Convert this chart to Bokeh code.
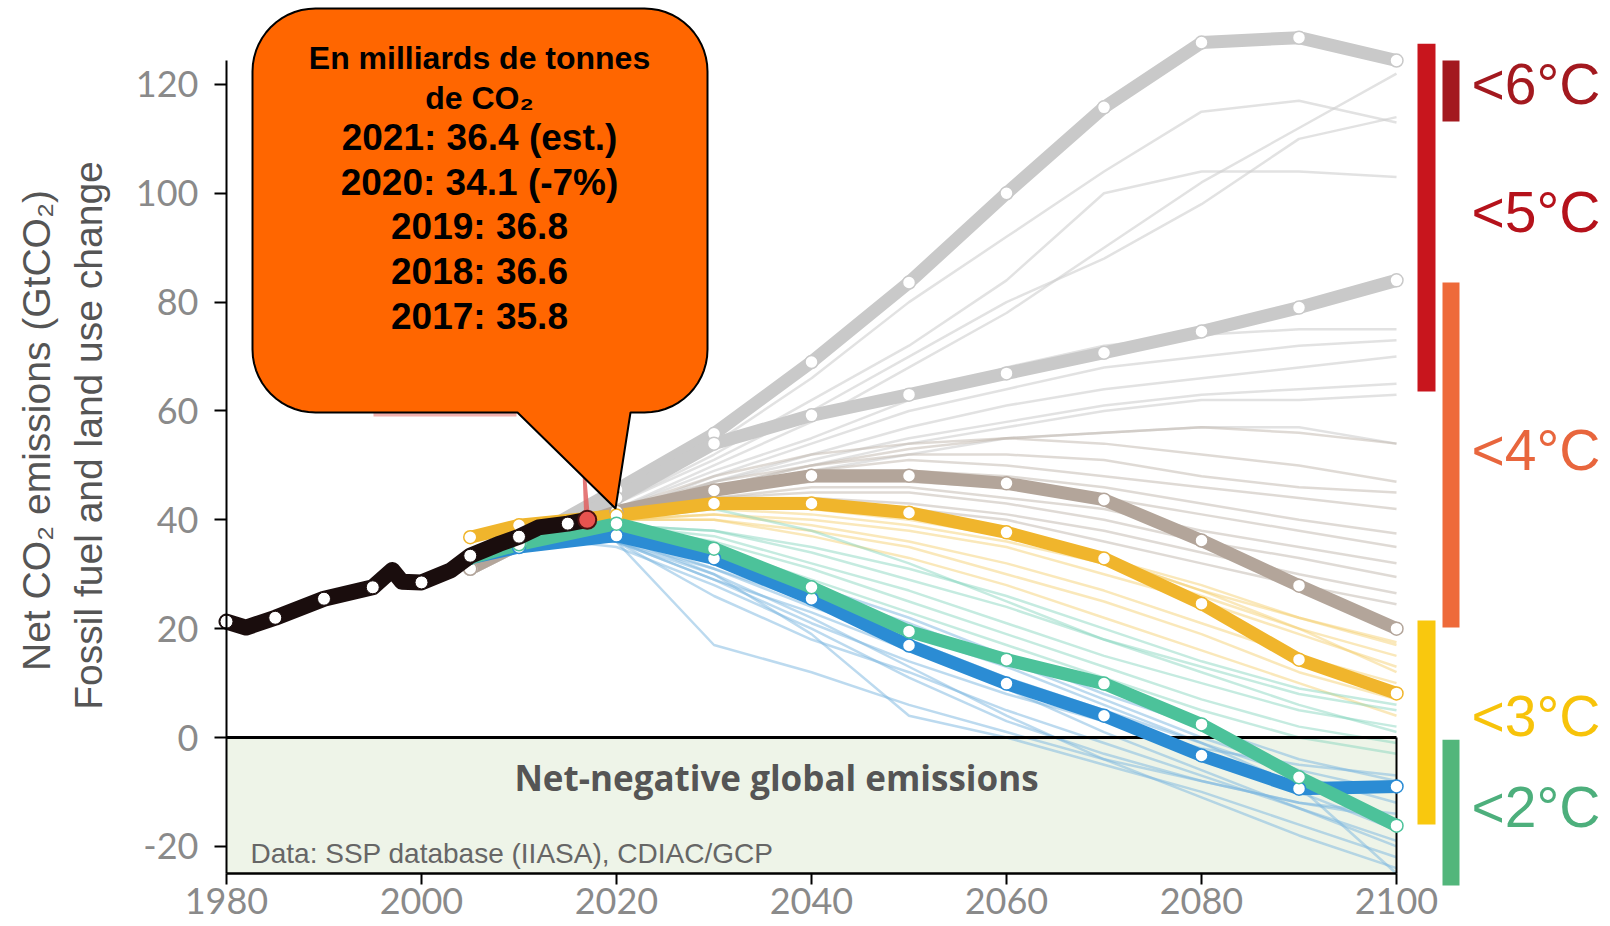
import math
from bokeh.plotting import figure
from bokeh.models import Range1d, FixedTicker, LinearAxis
from bokeh.core.properties import value
from bokeh.embed import file_html
from bokeh.resources import INLINE

# ---------------- data ----------------
hist_years = [1980, 1982, 1985, 1990, 1995, 1997, 1998, 2000, 2003, 2005, 2008, 2010, 2012, 2015, 2017]
hist_values = [21.3, 20.2, 22.0, 25.5, 27.6, 30.8, 28.6, 28.5, 30.7, 33.4, 35.6, 36.9, 38.6, 39.3, 40.0]

scen_years = [2005, 2010, 2020, 2030, 2040, 2050, 2060, 2070, 2080, 2090, 2100]
scen_gray_high = [31.0, 35.5, 45.5, 55.8, 69.0, 83.6, 100.0, 115.8, 127.7, 128.6, 124.4]
scen_gray_mid = [31.0, 35.5, 44.0, 54.0, 59.2, 63.0, 66.9, 70.7, 74.6, 79.0, 84.0]
scen_brown = [31.0, 35.5, 41.5, 45.4, 48.1, 48.1, 46.7, 43.7, 36.2, 27.9, 20.0]
scen_yellow = [36.8, 39.0, 40.8, 43.0, 43.0, 41.3, 37.7, 32.9, 24.6, 14.3, 8.1]
scen_teal = [33.0, 35.5, 39.3, 34.7, 27.6, 19.5, 14.3, 9.9, 2.4, -7.3, -16.2]
scen_blue = [33.0, 35.0, 37.1, 32.9, 25.5, 16.9, 9.9, 4.0, -3.3, -9.4, -9.0]

thin_years = [2010, 2020, 2030, 2040, 2050, 2060, 2070, 2080, 2090, 2100]
thin_gray = [
    [37, 44, 54, 66, 80, 92, 104, 115, 117, 113],
    [37, 43, 52, 62, 72, 84, 100, 104, 104, 103],
    [36, 42, 50, 58, 68, 78, 90, 102, 112, 122],
    [37, 43, 51, 60, 70, 80, 88, 98, 110, 114],
    [36, 42, 49, 55, 62, 68, 72, 74, 75, 75],
    [36, 41, 48, 54, 60, 64, 68, 70, 72, 73],
    [36, 41, 47, 52, 57, 61, 64, 66, 68, 70],
    [36, 41, 47, 51, 55, 58, 61, 63, 64, 65],
    [36, 40, 46, 50, 54, 57, 60, 62, 62, 63],
    [36, 40, 45, 49, 52, 55, 56, 57, 57, 54],
]
thin_brown = [
    [37, 42, 48, 52, 54, 55, 54, 52, 50, 47],
    [37, 42, 47, 50, 52, 52, 51, 48, 46, 45],
    [37, 41, 46, 49, 51, 50, 48, 46, 44, 42],
    [37, 41, 45, 48, 49, 48, 46, 43, 40, 37.5],
    [37, 41, 45, 47, 47, 46, 44, 41, 38, 35],
    [37, 41, 44, 46, 46, 44, 42, 38, 35, 32],
    [37, 40, 44, 45, 45, 43, 40, 36, 33, 29.5],
    [37, 40, 43, 44, 43, 41, 38, 34, 30, 26.5],
    [37, 40, 43, 43, 42, 40, 36, 32, 28, 24.5],
    [37, 41, 46, 50, 53, 55, 56, 57, 56, 54],
]
thin_yellow = [
    [38, 41, 43, 43, 41, 38, 33, 27, 22, 17.5],
    [38, 41, 42, 41, 39, 36, 32, 26, 20, 15],
    [38, 40, 41, 40, 38, 35, 30, 25, 19, 13],
    [38, 40, 41, 39, 36, 32, 27, 21, 15, 10],
    [38, 40, 40, 38, 35, 30, 25, 19, 12, 7],
    [38, 40, 40, 37, 33, 28, 22, 16, 10, 4],
    [38, 41, 44, 44, 42, 38, 33, 27, 20, 12],
    [38, 41, 43, 42, 40, 37, 33, 28, 22, 17],
]
thin_teal = [
    [38, 39, 38, 34, 29, 24, 18, 13, 8, 5],
    [38, 39, 37, 32, 27, 21, 15, 10, 5, 2],
    [38, 39, 36, 31, 25, 19, 13, 7, 2, -1],
    [38, 38, 35, 29, 23, 17, 11, 5, 0, -3],
    [38, 39, 38, 35, 31, 26, 20, 14, 9, 6],
    [38, 40, 42, 38, 32, 25, 18, 12, 6, 1],
]
thin_blue = [
    [37, 36, 17, 12, 6, 1, -4, -8, -12, -15],
    [37, 36, 30, 22, 13, 4, -4, -11, -18, -24],
    [37, 37, 32, 25, 17, 9, 1, -6, -13, -19],
    [37, 35, 28, 20, 11, 3, -3, -8, -12, -14],
    [37, 36, 31, 24, 18, 11, 5, -1, -7, -12],
    [37, 37, 33, 27, 21, 14, 7, 0, -6, -10],
    [37, 36, 29, 23, 16, 10, 4, -3, -10, -17],
    [37, 37, 30, 19, 4, 0, -5, -10, -16, -22],
    [37, 36, 26, 18, 12, 5, -1, -7, -13, -20],
    [37, 38, 34, 28, 22, 15, 8, 2, -4, -8],
    [37, 36, 29, 21, 14, 8, 3, -2, -5, -7],
    [37, 37, 31, 25, 19, 13, 6, -1, -9, -25],
]

x_ticks = [1980, 2000, 2020, 2040, 2060, 2080, 2100]
y_ticks = [-20, 0, 20, 40, 60, 80, 100, 120]

y_title_lines = ["Net CO\u2082 emissions (GtCO\u2082)", "Fossil fuel and land use change"]
callout_title = ["En milliards de tonnes", "de CO\u2082"]
callout_values = ["2021: 36.4 (est.)", "2020: 34.1 (-7%)", "2019: 36.8", "2018: 36.6", "2017: 35.8"]

temp_names = ["<6\u00b0C", "<5\u00b0C", "<4\u00b0C", "<3\u00b0C", "<2\u00b0C"]
temp_bar_top = [124.4, 127.5, 83.6, 21.5, -0.4]
temp_bar_bottom = [113.2, 63.6, 20.2, -16.0, -27.2]
temp_label_y = [120.0, 96.5, 52.9, 3.9, -12.7]

# ---------------- layout (pixel geometry, page coordinates) ----------------
FIG_W, FIG_H = 1600, 924
PAGE_X_1980 = 226
PX_PER_YEAR = 9.75
PAGE_Y_ZERO = 737
PX_PER_UNIT = 5.442


def px_x(page_x):
    return 1980 + (page_x - PAGE_X_1980) / PX_PER_YEAR


def px_y(page_y):
    return (PAGE_Y_ZERO - page_y) / PX_PER_UNIT


p = figure(width=FIG_W, height=FIG_H,
           x_range=Range1d(px_x(0), px_x(FIG_W)), y_range=Range1d(px_y(FIG_H), px_y(0)),
           x_axis_type=None, y_axis_type=None,
           output_backend="svg", toolbar_location=None,
           min_border_left=0, min_border_right=0, min_border_top=0, min_border_bottom=0)
p.outline_line_color = None
p.background_fill_color = "white"

TICK_FONT = "Lato"

xaxis = LinearAxis(fixed_location=-25, ticker=FixedTicker(ticks=x_ticks), bounds=(1980, 2100))
xaxis.axis_line_color = "black"
xaxis.axis_line_width = 2.5
xaxis.major_tick_line_color = "black"
xaxis.major_tick_line_width = 2
xaxis.major_tick_out = 11
xaxis.major_tick_in = 0
xaxis.minor_tick_out = 0
xaxis.minor_tick_in = 0
xaxis.major_label_standoff = 3
xaxis.major_label_text_font = TICK_FONT
xaxis.major_label_text_font_size = "36px"
xaxis.major_label_text_color = "#8a8a8a"
p.add_layout(xaxis, "below")

yaxis = LinearAxis(fixed_location=1980, ticker=FixedTicker(ticks=y_ticks), bounds=(-25, 124.4))
yaxis.axis_line_color = "black"
yaxis.axis_line_width = 2
yaxis.major_tick_line_color = "black"
yaxis.major_tick_line_width = 2
yaxis.major_tick_out = 12
yaxis.major_tick_in = 0
yaxis.minor_tick_out = 0
yaxis.minor_tick_in = 0
yaxis.major_label_standoff = 16
yaxis.major_label_text_font = TICK_FONT
yaxis.major_label_text_font_size = "36px"
yaxis.major_label_text_color = "#8a8a8a"
yaxis.major_label_overrides = {-20: "-20"}
p.add_layout(yaxis, "left")

# y axis title (two lines, rotated)
p.text(x=[px_x(36), px_x(88)], y=[px_y(430), px_y(435)], text=y_title_lines,
       angle=math.pi / 2, text_align="center", text_baseline="middle",
       text_font=value("Liberation Sans"), text_font_size="39px", text_color="#555555")

# net-negative area
p.quad(left=[1980], right=[2100], bottom=[-25], top=[0], fill_color="#eef4e8", line_color=None)

# thin scenario ensembles
def thin(group, color, alpha):
    p.multi_line(xs=[thin_years] * len(group), ys=group, line_color=color,
                 line_alpha=alpha, line_width=2.5)

thin(thin_gray, "#cfcfcf", 0.6)
thin(thin_brown, "#c5bbb2", 0.55)
thin(thin_yellow, "#f4cc66", 0.45)
thin(thin_teal, "#7fd3ba", 0.45)
thin(thin_blue, "#79b5e0", 0.5)

# zero line and right edge of the negative box
p.segment(x0=[1980], y0=[0], x1=[2100], y1=[0], line_color="black", line_width=3)
p.segment(x0=[2100], y0=[0], x1=[2100], y1=[-25], line_color="black", line_width=2)

# thick marker scenarios
thick = [
    (scen_gray_high, "#c9c9c9"),
    (scen_gray_mid, "#c9c9c9"),
    (scen_brown, "#b3a59a"),
    (scen_yellow, "#f0b52c"),
    (scen_blue, "#2b8cd4"),
    (scen_teal, "#4cc29a"),
]
for vals, col in thick:
    p.line(scen_years, vals, line_color=col, line_width=13, line_join="round", line_cap="round")
for vals, col in thick:
    p.scatter(scen_years, vals, size=13, fill_color="white", line_color=col, line_width=1.5)

# historical emissions
p.line(hist_years, hist_values, line_color="#1a0d0d", line_width=16, line_join="round", line_cap="round")
dot_years = [y for y in hist_years if y % 5 == 0]
dot_vals = [v for y, v in zip(hist_years, hist_values) if y % 5 == 0]
p.scatter(dot_years, dot_vals, size=13, fill_color="white", line_color="#1a0d0d", line_width=1)

# red pointer wedge + hidden label strip
last_year, last_val = hist_years[-1], hist_values[-1]
p.patch([last_year - 0.3, last_year + 0.3, last_year - 0.7], [last_val, last_val, px_y(413)],
        fill_color="#e06060", fill_alpha=0.85, line_color=None)
p.quad(left=[px_x(373)], right=[px_x(516)], top=[px_y(404)], bottom=[px_y(416)],
       fill_color="#f2b0ae", line_color=None)
p.scatter([last_year], [last_val], size=18, fill_color="#e8534f", line_color="#4a1010", line_width=2)

# callout balloon (page pixel geometry)
L, R, T, B, RAD = 252, 707, 8, 412, 63
TIP = (615, 508)
BASE_L, BASE_R = 517, 630


def arc(cx, cy, a0, a1, n=14):
    return [(cx + RAD * math.cos(math.radians(a0 + (a1 - a0) * i / n)),
             cy + RAD * math.sin(math.radians(a0 + (a1 - a0) * i / n))) for i in range(n + 1)]


pts = []
pts += arc(R - RAD, T + RAD, -90, 0)
pts += arc(R - RAD, B - RAD, 0, 90)
pts += [(BASE_R, B), TIP, (BASE_L, B)]
pts += arc(L + RAD, B - RAD, 90, 180)
pts += arc(L + RAD, T + RAD, 180, 270)
p.patch([px_x(a) for a, b in pts], [px_y(b) for a, b in pts],
        fill_color="#ff6600", line_color="black", line_width=2)

cx = px_x(479)
p.text(x=[cx] * 2, y=[px_y(57), px_y(97)], text=callout_title,
       text_font=value("Liberation Sans"), text_font_style="bold", text_font_size="32px",
       text_align="center", text_baseline="middle", text_color="black")
p.text(x=[cx] * 5, y=[px_y(v) for v in [137, 182, 226, 271, 316]], text=callout_values,
       text_font=value("Liberation Sans"), text_font_style="bold", text_font_size="37px",
       text_align="center", text_baseline="middle", text_color="black")

# texts in the negative area
p.text(x=[px_x(776)], y=[px_y(777)], text=["Net-negative global emissions"],
       text_font=value("Open Sans"), text_font_style="bold", text_font_size="35px",
       text_align="center", text_baseline="middle", text_color="#555555")
p.text(x=[px_x(250)], y=[px_y(853)], text=["Data: SSP database (IIASA), CDIAC/GCP"],
       text_font=value("Liberation Sans"), text_font_size="28px",
       text_align="left", text_baseline="middle", text_color="#666666")

# temperature bars on the right
col1 = (px_x(1417), px_x(1435))
col2 = (px_x(1442), px_x(1459))
bar_cols = [col2, col1, col2, col1, col2]
bar_colors = ["#a3191f", "#c8151d", "#ee6a3a", "#f9c80e", "#52b67b"]
label_colors = ["#a3191f", "#b5121b", "#e8663d", "#f7c30a", "#4daf7c"]
p.quad(left=[c[0] for c in bar_cols], right=[c[1] for c in bar_cols],
       top=temp_bar_top, bottom=temp_bar_bottom, fill_color=bar_colors, line_color=None)
p.text(x=[px_x(1471)] * 5, y=temp_label_y, text=temp_names, text_color=label_colors,
       text_font=value("Liberation Sans"), text_font_size="57px",
       text_align="left", text_baseline="middle")

open("out.html", "w").write(file_html(p, INLINE))
